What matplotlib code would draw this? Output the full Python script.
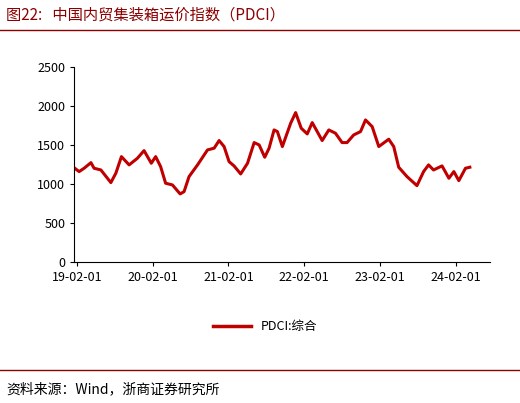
import numpy as np
import pandas as pd
import matplotlib.pyplot as plt
import matplotlib.dates as mdates
from matplotlib.lines import Line2D

plt.rcParams['font.family'] = ['Noto Sans CJK SC', 'DejaVu Sans']

# ---------------- data ----------------
dates = ["2019-01-22", "2019-02-12", "2019-03-08", "2019-04-10", "2019-04-25",
         "2019-05-28", "2019-07-15", "2019-08-08", "2019-09-04", "2019-10-11",
         "2019-11-20", "2019-12-22", "2020-01-26", "2020-02-16", "2020-03-11",
         "2020-04-04", "2020-05-07", "2020-06-13", "2020-07-02", "2020-07-26",
         "2020-09-05", "2020-10-23", "2020-11-24", "2020-12-18", "2021-01-11",
         "2021-02-04", "2021-02-28", "2021-04-01", "2021-05-04", "2021-06-05",
         "2021-06-29", "2021-07-26", "2021-08-16", "2021-09-09", "2021-09-25",
         "2021-10-19", "2021-11-28", "2021-12-22", "2022-01-18", "2022-02-16",
         "2022-03-12", "2022-04-05", "2022-04-29", "2022-05-31", "2022-07-02",
         "2022-08-03", "2022-08-27", "2022-09-28", "2022-10-31", "2022-11-24",
         "2022-12-26", "2023-01-27", "2023-03-16", "2023-04-09", "2023-05-03",
         "2023-06-12", "2023-07-30", "2023-08-31", "2023-09-24", "2023-10-18",
         "2023-11-28", "2023-12-31", "2024-01-24", "2024-02-17", "2024-03-20",
         "2024-04-10"]
pdci = [1201, 1158, 1201, 1273, 1201, 1179, 1017, 1137, 1350, 1244,
        1329, 1427, 1265, 1350, 1222, 1009, 987, 872, 901, 1094,
        1244, 1436, 1458, 1556, 1479, 1286, 1231, 1128, 1265, 1530,
        1500, 1342, 1458, 1692, 1671, 1479, 1778, 1914, 1714, 1641,
        1786, 1671, 1556, 1692, 1650, 1530, 1530, 1628, 1671, 1820,
        1735, 1479, 1573, 1479, 1214, 1094, 978, 1158, 1244, 1179,
        1231, 1073, 1158, 1042, 1201, 1214]
tick_labels = ["19-02-01", "20-02-01", "21-02-01", "22-02-01", "23-02-01", "24-02-01"]
y_ticks = [0, 500, 1000, 1500, 2000, 2500]

x = pd.to_datetime(dates)
red = "#C00000"

# ---------------- plot ----------------
fig = plt.figure(figsize=(5.2, 4.03), dpi=100)
ax = fig.add_axes([0.143, 0.35, 0.8, 0.484])

ax.plot(x, pdci, color=red, linewidth=2.2)

ax.set_xlim(pd.Timestamp("2019-01-20"), pd.Timestamp("2024-07-18"))
ax.set_ylim(0, 2500)
ax.set_yticks(y_ticks)
ax.set_xticks(pd.to_datetime(["20" + t for t in tick_labels]))
ax.set_xticklabels(tick_labels)
ax.tick_params(labelsize=9, length=3, direction='out')
for s in ['top', 'right']:
    ax.spines[s].set_visible(False)

leg = [Line2D([0], [0], color=red, linewidth=2.5)]
fig.legend(leg, ["PDCI:综合"], loc='center', bbox_to_anchor=(0.51, 0.19),
           frameon=False, fontsize=9, handlelength=3)

# title and source
fig.text(0.012, 0.962, "图22:   中国内贸集装箱运价指数（PDCI）", color="#8B0000",
         fontsize=11, va='center')
fig.add_artist(Line2D([0, 1], [0.925, 0.925], color="#8B0000", linewidth=1))
fig.add_artist(Line2D([0, 1], [0.082, 0.082], color="#8B0000", linewidth=1))
fig.text(0.012, 0.035, "资料来源：Wind，浙商证券研究所", fontsize=10, va='center')

fig.savefig("out.png", dpi=100)
